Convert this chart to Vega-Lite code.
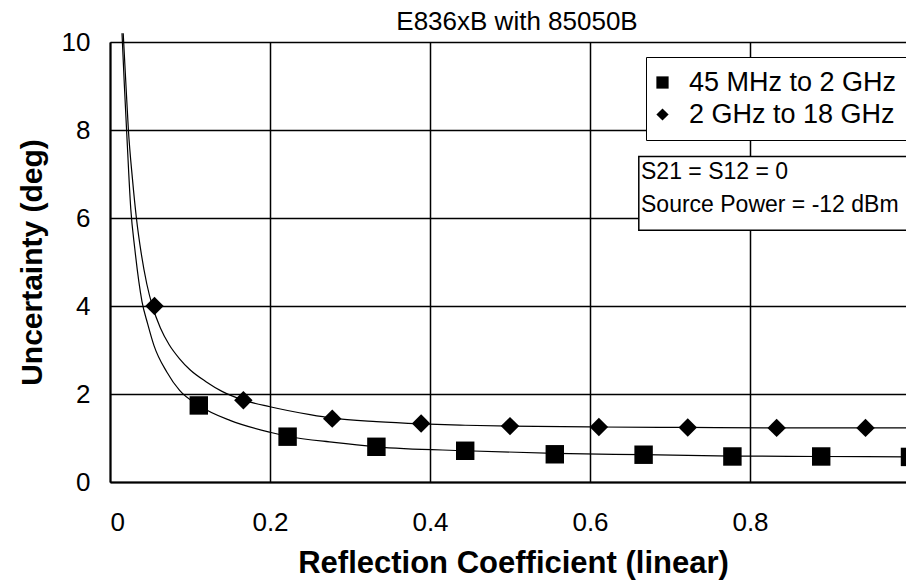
{
  "$schema": "https://vega.github.io/schema/vega-lite/v6.json",
  "autosize": {"type": "none"},
  "width": 796,
  "height": 440,
  "padding": {"left": 110, "top": 42, "right": 0, "bottom": 102},
  "background": "white",
  "config": {"view": {"stroke": null}, "font": "Liberation Sans"},
  "title": {"text": "E836xB with 85050B", "font": "Liberation Sans", "fontSize": 26, "fontWeight": "normal", "color": "black", "anchor": "middle", "dx": 9, "dy": 18, "offset": 12},
  "datasets": {
    "curves": [
      {"series": "45 MHz to 2 GHz", "x": 0.015, "y": 10.2},
      {"series": "45 MHz to 2 GHz", "x": 0.018, "y": 9.0},
      {"series": "45 MHz to 2 GHz", "x": 0.021, "y": 7.9},
      {"series": "45 MHz to 2 GHz", "x": 0.026, "y": 6.2},
      {"series": "45 MHz to 2 GHz", "x": 0.031, "y": 5.3},
      {"series": "45 MHz to 2 GHz", "x": 0.040, "y": 4.1},
      {"series": "45 MHz to 2 GHz", "x": 0.047, "y": 3.6},
      {"series": "45 MHz to 2 GHz", "x": 0.055, "y": 3.1},
      {"series": "45 MHz to 2 GHz", "x": 0.071, "y": 2.5},
      {"series": "45 MHz to 2 GHz", "x": 0.087, "y": 2.08},
      {"series": "45 MHz to 2 GHz", "x": 0.111, "y": 1.74},
      {"series": "45 MHz to 2 GHz", "x": 0.15, "y": 1.4},
      {"series": "45 MHz to 2 GHz", "x": 0.2, "y": 1.13},
      {"series": "45 MHz to 2 GHz", "x": 0.222, "y": 1.04},
      {"series": "45 MHz to 2 GHz", "x": 0.28, "y": 0.9},
      {"series": "45 MHz to 2 GHz", "x": 0.333, "y": 0.8},
      {"series": "45 MHz to 2 GHz", "x": 0.444, "y": 0.71},
      {"series": "45 MHz to 2 GHz", "x": 0.556, "y": 0.65},
      {"series": "45 MHz to 2 GHz", "x": 0.667, "y": 0.62},
      {"series": "45 MHz to 2 GHz", "x": 0.778, "y": 0.59},
      {"series": "45 MHz to 2 GHz", "x": 0.889, "y": 0.58},
      {"series": "45 MHz to 2 GHz", "x": 1.0, "y": 0.57},
      {"series": "2 GHz to 18 GHz", "x": 0.0165, "y": 10.2},
      {"series": "2 GHz to 18 GHz", "x": 0.020, "y": 9.0},
      {"series": "2 GHz to 18 GHz", "x": 0.023, "y": 8.0},
      {"series": "2 GHz to 18 GHz", "x": 0.028, "y": 6.9},
      {"series": "2 GHz to 18 GHz", "x": 0.033, "y": 6.0},
      {"series": "2 GHz to 18 GHz", "x": 0.039, "y": 5.2},
      {"series": "2 GHz to 18 GHz", "x": 0.046, "y": 4.5},
      {"series": "2 GHz to 18 GHz", "x": 0.053, "y": 4.0},
      {"series": "2 GHz to 18 GHz", "x": 0.063, "y": 3.5},
      {"series": "2 GHz to 18 GHz", "x": 0.074, "y": 3.12},
      {"series": "2 GHz to 18 GHz", "x": 0.087, "y": 2.8},
      {"series": "2 GHz to 18 GHz", "x": 0.1, "y": 2.55},
      {"series": "2 GHz to 18 GHz", "x": 0.12, "y": 2.28},
      {"series": "2 GHz to 18 GHz", "x": 0.14, "y": 2.06},
      {"series": "2 GHz to 18 GHz", "x": 0.167, "y": 1.86},
      {"series": "2 GHz to 18 GHz", "x": 0.2, "y": 1.71},
      {"series": "2 GHz to 18 GHz", "x": 0.25, "y": 1.53},
      {"series": "2 GHz to 18 GHz", "x": 0.278, "y": 1.45},
      {"series": "2 GHz to 18 GHz", "x": 0.333, "y": 1.37},
      {"series": "2 GHz to 18 GHz", "x": 0.389, "y": 1.32},
      {"series": "2 GHz to 18 GHz", "x": 0.444, "y": 1.29},
      {"series": "2 GHz to 18 GHz", "x": 0.5, "y": 1.27},
      {"series": "2 GHz to 18 GHz", "x": 0.611, "y": 1.25},
      {"series": "2 GHz to 18 GHz", "x": 0.722, "y": 1.24},
      {"series": "2 GHz to 18 GHz", "x": 0.833, "y": 1.23},
      {"series": "2 GHz to 18 GHz", "x": 0.944, "y": 1.23},
      {"series": "2 GHz to 18 GHz", "x": 1.0, "y": 1.23}
    ],
    "points": [
      {"series": "45 MHz to 2 GHz", "x": 0.111, "y": 1.74},
      {"series": "45 MHz to 2 GHz", "x": 0.222, "y": 1.03},
      {"series": "45 MHz to 2 GHz", "x": 0.333, "y": 0.80},
      {"series": "45 MHz to 2 GHz", "x": 0.444, "y": 0.71},
      {"series": "45 MHz to 2 GHz", "x": 0.556, "y": 0.63},
      {"series": "45 MHz to 2 GHz", "x": 0.667, "y": 0.62},
      {"series": "45 MHz to 2 GHz", "x": 0.778, "y": 0.58},
      {"series": "45 MHz to 2 GHz", "x": 0.889, "y": 0.58},
      {"series": "45 MHz to 2 GHz", "x": 1.0, "y": 0.57},
      {"series": "2 GHz to 18 GHz", "x": 0.0556, "y": 4.0},
      {"series": "2 GHz to 18 GHz", "x": 0.1667, "y": 1.86},
      {"series": "2 GHz to 18 GHz", "x": 0.2778, "y": 1.44},
      {"series": "2 GHz to 18 GHz", "x": 0.3889, "y": 1.33},
      {"series": "2 GHz to 18 GHz", "x": 0.5, "y": 1.27},
      {"series": "2 GHz to 18 GHz", "x": 0.6111, "y": 1.25},
      {"series": "2 GHz to 18 GHz", "x": 0.7222, "y": 1.24},
      {"series": "2 GHz to 18 GHz", "x": 0.8333, "y": 1.23},
      {"series": "2 GHz to 18 GHz", "x": 0.9444, "y": 1.23}
    ],
    "notebox": [{"x": 0.661, "x2": 1.1, "y": 7.4, "y2": 5.72}],
    "notes": [
      {"x": 0.6625, "y": 7.05, "label": "S21 = S12 = 0"},
      {"x": 0.6625, "y": 6.3, "label": "Source Power = -12 dBm"}
    ]
  },
  "layer": [
    {
      "data": {"name": "curves"},
      "mark": {"type": "line", "color": "black", "strokeWidth": 1.2, "interpolate": "monotone", "clip": false},
      "encoding": {
        "x": {"field": "x", "type": "quantitative", "scale": {"domain": [0, 0.995], "nice": false},
          "axis": {"values": [0, 0.2, 0.4, 0.6, 0.8], "format": "~g", "grid": true, "gridColor": "black", "gridWidth": 1.5, "gridOpacity": 1,
            "domainColor": "black", "domainWidth": 2, "ticks": false,
            "labelFont": "Liberation Sans", "labelFontSize": 26, "labelColor": "black", "labelPadding": 27,
            "title": "Reflection Coefficient (linear)", "titleFont": "Liberation Sans", "titleFontSize": 31, "titleFontWeight": "bold", "titleColor": "black",
            "titleX": 403, "titleY": 90, "titleBaseline": "alphabetic"}},
        "y": {"field": "y", "type": "quantitative", "scale": {"domain": [0, 10], "nice": false},
          "axis": {"values": [0, 2, 4, 6, 8, 10], "grid": true, "gridColor": "black", "gridWidth": 1.5, "gridOpacity": 1,
            "domainColor": "black", "domainWidth": 2, "ticks": false,
            "labelFont": "Liberation Sans", "labelFontSize": 26, "labelColor": "black", "labelPadding": 20,
            "title": "Uncertainty (deg)", "titleFont": "Liberation Sans", "titleFontSize": 30, "titleFontWeight": "bold", "titleColor": "black",
            "titleX": -78, "titleY": 220, "titleAngle": 270, "titleBaseline": "middle"}},
        "detail": {"field": "series", "type": "nominal"}
      }
    },
    {
      "data": {"name": "points"},
      "mark": {"type": "point", "filled": true, "color": "black", "opacity": 1, "size": 340, "clip": false},
      "encoding": {
        "x": {"field": "x", "type": "quantitative"},
        "y": {"field": "y", "type": "quantitative"},
        "shape": {"field": "series", "type": "nominal",
          "scale": {"domain": ["45 MHz to 2 GHz", "2 GHz to 18 GHz"], "range": ["square", "diamond"]},
          "legend": {"orient": "none", "legendX": 536, "legendY": 15, "title": null,
            "strokeColor": "black", "fillColor": "white", "padding": 12,
            "labelFont": "Liberation Sans", "labelFontSize": 27, "labelColor": "black", "labelLimit": 400, "labelOffset": 13,
            "symbolSize": 150, "symbolOffset": -9, "symbolFillColor": "black", "symbolStrokeColor": "black", "rowPadding": 4}}
      }
    },
    {
      "data": {"name": "notebox"},
      "mark": {"type": "rect", "fill": "white", "stroke": "black", "strokeWidth": 1.5, "clip": false},
      "encoding": {
        "x": {"field": "x", "type": "quantitative"},
        "x2": {"field": "x2"},
        "y": {"field": "y", "type": "quantitative"},
        "y2": {"field": "y2"}
      }
    },
    {
      "data": {"name": "notes"},
      "mark": {"type": "text", "align": "left", "baseline": "middle", "font": "Liberation Sans", "fontSize": 23, "color": "black", "dx": 1},
      "encoding": {
        "x": {"field": "x", "type": "quantitative"},
        "y": {"field": "y", "type": "quantitative"},
        "text": {"field": "label"}
      }
    }
  ]
}
